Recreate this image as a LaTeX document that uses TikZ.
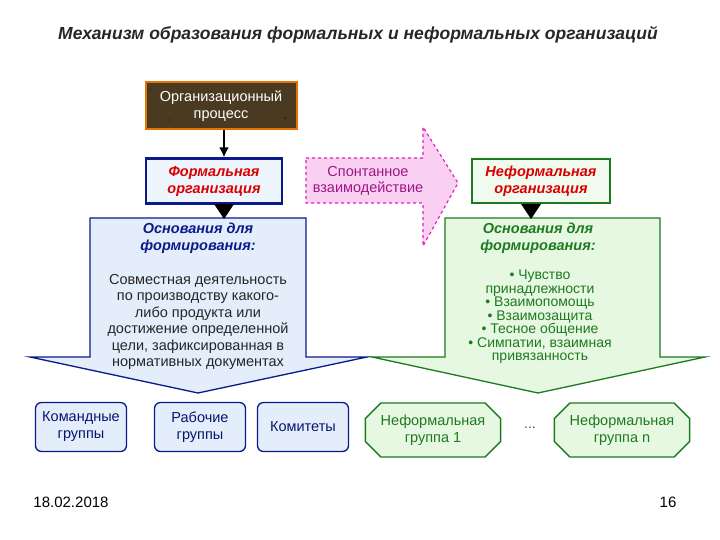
\documentclass[tikz,border=0pt]{standalone}
\usepackage{fontspec}
\setmainfont{Liberation Sans}
\usetikzlibrary{shapes.misc,arrows.meta}
\definecolor{dblue}{HTML}{0A1A8C}
\definecolor{bfill}{HTML}{E3EEFA}
\definecolor{dgreen}{HTML}{1E7A1E}
\definecolor{gfill}{HTML}{E6F7E2}
\definecolor{mag}{HTML}{E020C0}
\definecolor{pfill}{HTML}{FAD0F2}
\definecolor{brn}{HTML}{4A3A22}
\begin{document}
\begin{tikzpicture}[x=1pt,y=-1pt,
  txt/.style={align=center,font=\fontsize{14.5}{16.5}\selectfont},
  hdr/.style={align=center,font=\fontsize{14.5}{17}\selectfont\bfseries\itshape},
  bbox/.style={draw=dblue,line width=1.3pt,fill=bfill,rounded corners=6pt,minimum width=91pt,minimum height=49pt,align=center,font=\fontsize{14.5}{17}\selectfont},
  gbox/.style={draw=dgreen,line width=1.3pt,fill=gfill,chamfered rectangle,chamfered rectangle xsep=12pt,align=center,font=\fontsize{14.5}{17}\selectfont,text=dgreen,minimum height=54pt}]
\useasboundingbox (0,0) rectangle (720,540);
\fill[white] (0,0) rectangle (720,540);
\node[font=\fontsize{17.5}{19}\selectfont\bfseries\itshape,text=black!85] (title) at (358,35) {Механизм образования формальных и неформальных организаций};
% org process
\node[draw=orange!90!black,line width=2pt,fill=brn,minimum width=151pt,minimum height=47pt,txt,text=white] (proc) at (221,106) {Организационный\\процесс};
\fill[brn!70!black] (150,90) circle (1) (170,120) circle (1.2) (260,95) circle (1) (285,118) circle (1.3) (200,125) circle (1);
% formal
\node[draw=dblue,line width=2.2pt,fill=bfill!60,minimum width=136pt,minimum height=45pt,hdr,text=red!85!black] (form) at (214,181) {Формальная\\организация};
\draw[-{Latex[length=10pt,width=10pt]},line width=2.5pt] (proc.south -| 224,0) -- (form.north -| 224,0);
% spontaneous arrow
\draw[mag,dashed,line width=1.2pt,fill=pfill] (306,158) -- (423,158) -- (423,127) -- (458,183) -- (423,246) -- (423,203) -- (306,203) -- cycle;
\node[txt,text=mag!70!black] (spont) at (368,181) {Спонтанное\\взаимодействие};
% informal
\node[draw=dgreen,line width=2.2pt,fill=gfill!60,minimum width=138pt,minimum height=44pt,hdr,text=red!85!black] (inf) at (541,181) {Неформальная\\организация};
% blue big arrow
\draw[dblue,line width=1.3pt,fill=bfill] (90,218) -- (306,218) -- (306,357) -- (367,357) -- (198,393) -- (30,357) -- (90,357) -- cycle;
\node[hdr,text=dblue] (bh) at (198,238) {Основания для\\формирования:};
\node[txt,text=black!85] (bt) at (198,322) {Совместная деятельность\\по производству какого-\\либо продукта или\\достижение определенной\\цели, зафиксированная в\\нормативных документах};
% green big arrow
\draw[dgreen,line width=1.3pt,fill=gfill] (445,218) -- (660,218) -- (660,357) -- (705,357) -- (538,393) -- (372,357) -- (445,357) -- cycle;
\node[hdr,text=dgreen] (gh) at (538,238) {Основания для\\формирования:};
\node[align=center,font=\fontsize{14}{13.5}\selectfont,text=dgreen] (gt) at (540,317) {• Чувство\\принадлежности\\• Взаимопомощь\\• Взаимозащита\\• Тесное общение\\• Симпатии, взаимная\\привязанность};
% small triangles
\fill (214,204) -- (234,204) -- (224,219) -- cycle;
\fill (521,204) -- (541,204) -- (531,219) -- cycle;
% bottom boxes
\node[bbox,text=dblue!80!black] (b1) at (81,427) {Командные\\группы};
\node[bbox,text=dblue!80!black] (b2) at (200,427) {Рабочие\\группы};
\node[bbox,text=dblue!80!black] (b3) at (303,427) {Комитеты};
\node[gbox,minimum width=127pt] (g1) at (433,430) {Неформальная\\группа 1};
\node[font=\fontsize{14}{14}\selectfont,text=black!70] (dots) at (530,428) {...};
\node[gbox,minimum width=134pt] (g2) at (622,430) {Неформальная\\группа n};
\node[font=\fontsize{15}{14}\selectfont] (date) at (71,502) {18.02.2018};
\node[font=\fontsize{15}{14}\selectfont] (pg) at (668,502) {16};
\end{tikzpicture}
\end{document}
